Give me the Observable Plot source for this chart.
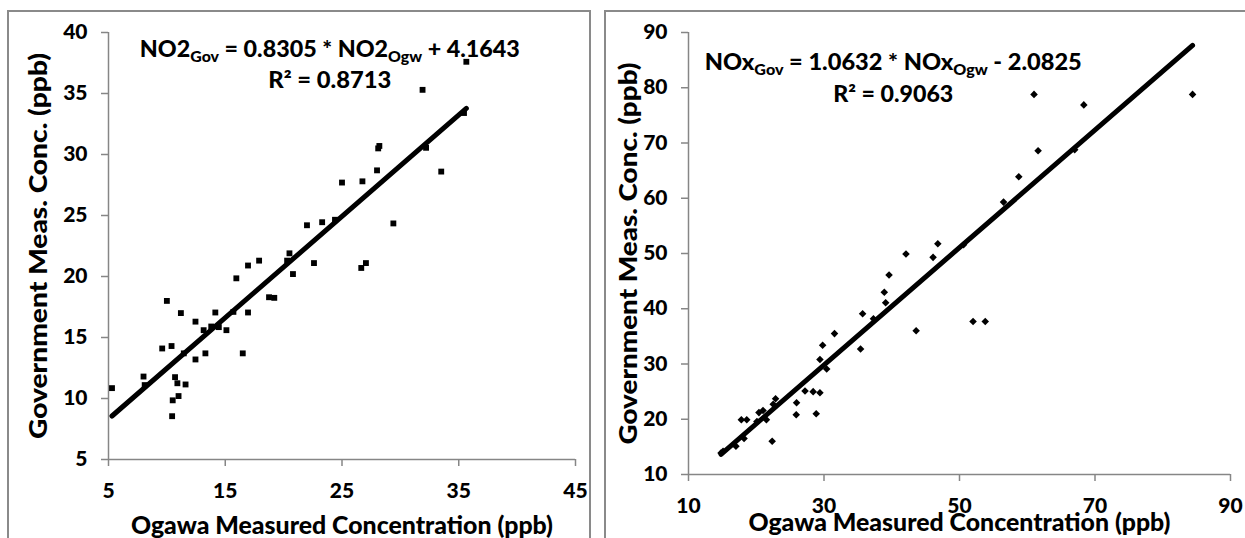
<!DOCTYPE html>
<html><head><meta charset="utf-8">
<script src="https://cdn.jsdelivr.net/npm/d3@7"></script>
<script src="https://cdn.jsdelivr.net/npm/@observablehq/plot@0.6"></script>
<style>
html,body{margin:0;padding:0;background:#fff;overflow:hidden;}
#wrap{position:relative;width:1245px;height:538px;font-family:Lato,sans-serif;}
.panel{position:absolute;border:2px solid #8a8a8a;box-sizing:border-box;}
#p1{left:7px;top:10px;width:584px;height:560px;}
#p2{left:604px;top:10px;width:680px;height:560px;}
#c1{position:absolute;left:0;top:0;width:600px;height:538px;}
#c2{position:absolute;left:600px;top:0;width:645px;height:538px;}
</style></head><body>
<div id="wrap"><div class="panel" id="p1"></div><div class="panel" id="p2"></div><div id="c1"></div><div id="c2"></div></div>
<script>
// ---- data ----
const no2Ogawa = [5.3, 8.0, 8.1, 10.0, 9.6, 10.4, 11.2, 10.7, 10.9, 11.6, 11.0, 10.5, 10.45, 11.45, 12.45, 12.45, 13.3, 13.15, 13.8, 14.15, 14.45, 15.1, 15.7, 15.95, 16.5, 16.95, 16.95, 17.9, 18.75, 19.2, 20.3, 20.5, 20.8, 22.6, 22.0, 23.3, 24.4, 25.0, 26.75, 27.05, 26.65, 28.0, 28.1, 28.2, 29.4, 31.9, 32.2, 33.5, 35.45, 35.65];
const no2Gov   = [10.85, 11.8, 11.1, 18.0, 14.1, 14.3, 17.0, 11.75, 11.25, 11.15, 10.2, 9.85, 8.55, 13.7, 16.3, 13.2, 13.7, 15.6, 15.9, 17.05, 15.85, 15.6, 17.1, 19.85, 13.7, 17.05, 20.9, 21.3, 18.3, 18.25, 21.3, 21.9, 20.2, 21.1, 24.2, 24.45, 24.65, 27.7, 27.8, 21.1, 20.7, 28.7, 30.5, 30.7, 24.35, 35.3, 30.55, 28.6, 33.4, 37.6];
const noxOgawa = [14.8, 15.1, 17.0, 18.2, 17.8, 18.6, 20.1, 20.4, 21.0, 21.5, 22.35, 22.5, 22.85, 25.9, 25.95, 27.2, 28.4, 28.85, 29.4, 29.4, 29.8, 30.4, 31.55, 35.4, 35.7, 37.3, 38.9, 39.1, 39.6, 42.1, 43.6, 46.1, 46.8, 50.6, 52.0, 53.8, 56.5, 58.75, 61.0, 61.6, 67.0, 68.35, 84.4];
const noxGov   = [13.9, 14.2, 15.1, 16.5, 19.9, 19.9, 19.6, 21.2, 21.6, 19.9, 16.0, 22.7, 23.7, 20.8, 23.0, 25.1, 25.0, 21.0, 24.8, 30.8, 33.4, 29.1, 35.5, 32.7, 39.1, 38.2, 43.0, 41.1, 46.1, 49.9, 36.0, 49.3, 51.75, 51.6, 37.7, 37.7, 59.3, 63.9, 78.8, 68.6, 68.8, 76.9, 78.8];
const no2XTicks = [5, 15, 25, 35, 45];
const no2YTicks = [5, 10, 15, 20, 25, 30, 35, 40];
const noxXTicks = [10, 30, 50, 70, 90];
const noxYTicks = [10, 20, 30, 40, 50, 60, 70, 80, 90];
const no2Fit = {name: "NO2", slope: 0.8305, intercept: 4.1643, r2: 0.8713};
const noxFit = {name: "NOx", slope: 1.0632, intercept: -2.0825, r2: 0.9063};
const xTitle = "Ogawa Measured Concentration (ppb)";
const yTitle = "Government Meas. Conc. (ppb)";
const subA = "Gov", subB = "Ogw";

const FONT = "Lato, 'Open Sans', sans-serif";
const AXIS = "#868686";
const W = 900;

function panel(cfg) {
  const pts = cfg.xs.map((x, i) => ({x, y: cfg.ys[i]}));
  const ext = d3.extent(cfg.xs);
  const fitPts = ext.map(x => ({x, y: cfg.fit.slope * x + cfg.fit.intercept}));
  const plot = Plot.plot({
    width: cfg.width, height: 538,
    marginLeft: cfg.ml, marginRight: cfg.mr, marginTop: 32, marginBottom: cfg.mb,
    style: {fontFamily: FONT, background: "transparent", color: "#000", overflow: "visible"},
    x: {domain: [cfg.xTicks[0], cfg.xTicks[cfg.xTicks.length - 1]]},
    y: {domain: [cfg.yTicks[0], cfg.yTicks[cfg.yTicks.length - 1]]},
    marks: [
      Plot.ruleX([cfg.xTicks[0]], {stroke: AXIS, strokeWidth: 1.5}),
      Plot.ruleY([cfg.yTicks[0]], {stroke: AXIS, strokeWidth: 1.5}),
      Plot.axisX({ticks: cfg.xTicks, tickSize: 7, tickPadding: 17, stroke: AXIS, strokeWidth: 1.5, fill: "#000", fontSize: 21, fontWeight: W, label: null, tickFormat: d => String(d)}),
      Plot.axisY({ticks: cfg.yTicks, tickSize: 7, tickPadding: 14, stroke: AXIS, strokeWidth: 1.5, fill: "#000", fontSize: 21, fontWeight: W, label: null, tickFormat: d => String(d)}),
      Plot.dot(pts, {x: "x", y: "y", symbol: cfg.symbol, r: cfg.r, fill: "#000"}),
      Plot.line(fitPts, {x: "x", y: "y", stroke: "#000", strokeWidth: 5, strokeLinecap: "round"}),
      Plot.text([xTitle], {frameAnchor: "bottom", dy: cfg.xTitleDy, textAnchor: "middle", lineAnchor: "middle", fontSize: 25, fontWeight: W, fill: "#000"}),
      Plot.text([yTitle], {frameAnchor: "left", dx: cfg.yTitleDx, rotate: -90, textAnchor: "middle", lineAnchor: "middle", fontSize: 25, fontWeight: W, fill: "#000"})
    ]
  });
  const svg = d3.select(plot);
  const sx = plot.scale("x"), sy = plot.scale("y");
  const f4 = d3.format(".4f");
  const fit = cfg.fit;
  const eq = svg.append("text")
    .attr("x", sx.apply(cfg.eqAt[0])).attr("y", sy.apply(cfg.eqAt[1]))
    .attr("text-anchor", "middle").attr("font-family", FONT).attr("font-weight", W)
    .attr("font-size", 22).attr("fill", "#000");
  eq.append("tspan").text(fit.name);
  eq.append("tspan").attr("font-size", 15).attr("dy", 5).text(subA);
  eq.append("tspan").attr("dy", -5).text(" = " + f4(fit.slope) + " * " + fit.name);
  eq.append("tspan").attr("font-size", 15).attr("dy", 5).text(subB);
  eq.append("tspan").attr("dy", -5).text((fit.intercept >= 0 ? " + " : " - ") + f4(Math.abs(fit.intercept)));
  eq.attr("textLength", cfg.eqLen).attr("lengthAdjust", "spacingAndGlyphs");
  svg.append("text")
    .attr("x", sx.apply(cfg.r2At[0])).attr("y", sy.apply(cfg.r2At[1]))
    .attr("text-anchor", "middle").attr("font-family", FONT).attr("font-weight", W)
    .attr("font-size", 22).attr("fill", "#000")
    .attr("textLength", cfg.r2Len).attr("lengthAdjust", "spacingAndGlyphs")
    .text("R² = " + f4(fit.r2));
  svg.selectAll("text").filter(function() { return this.textContent === xTitle || this.textContent === yTitle; })
    .attr("textLength", function() { return this.textContent === xTitle ? 422 : cfg.yLen; })
    .attr("lengthAdjust", "spacingAndGlyphs");
  return plot;
}

document.getElementById("c1").append(panel({
  xs: no2Ogawa, ys: no2Gov, fit: no2Fit, xTicks: no2XTicks, yTicks: no2YTicks,
  width: 600, ml: 108, mr: 25, mb: 79, symbol: "square", r: 3.3,
  xTitleDy: 66, yTitleDx: -70, eqAt: [24, 37.95], r2At: [24, 35.4], eqLen: 380, r2Len: 123, yLen: 386
}));
document.getElementById("c2").append(panel({
  xs: noxOgawa, ys: noxGov, fit: noxFit, xTicks: noxXTicks, yTicks: noxYTicks,
  width: 645, ml: 88, mr: 15, mb: 64, symbol: "diamond2", r: 3.4,
  xTitleDy: 48, yTitleDx: -60, eqAt: [40.3, 83.1], r2At: [40.3, 77.3], eqLen: 377, r2Len: 120, yLen: 382
}));
</script>
</body></html>
